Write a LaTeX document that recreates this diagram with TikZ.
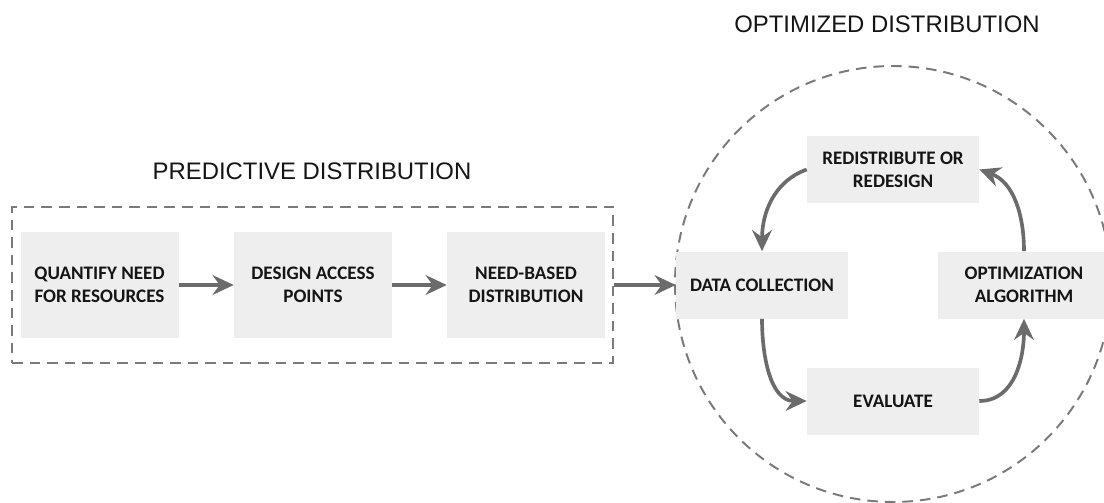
\documentclass[tikz,border=0pt]{standalone}
\usepackage{fontspec}
\setmainfont{Liberation Sans}
\newfontfamily\boxfont{Carlito}
\usetikzlibrary{arrows.meta}
\definecolor{boxgray}{HTML}{EEEEEE}
\definecolor{arrowgray}{HTML}{6B6B6B}
\definecolor{dashgray}{HTML}{7A7A7A}
\definecolor{textgray}{HTML}{151515}
\tikzset{
  stage/.style={fill=boxgray, minimum width=3.95cm, minimum height=2.65cm, align=center,
    font=\boxfont\bfseries\fontsize{13.6}{16.2}\selectfont, text=textgray},
  loopbox/.style={stage, minimum width=4.3cm, minimum height=1.675cm},
  flow/.style={arrowgray, line width=2.6pt, -{Stealth[length=15pt,width=14pt,inset=5pt]}},
  border/.style={draw=dashgray, line width=1.4pt, dash pattern=on 7.5pt off 5pt},
  heading/.style={font=\fontsize{17}{20}\selectfont, text=textgray}
}
\begin{document}
\begin{tikzpicture}
\useasboundingbox (0,0) rectangle (27.6,12.55);
% predictive distribution
\node[heading] (predtitle) at (7.8,8.275) {PREDICTIVE DISTRIBUTION};
\node[border, minimum width=15.025cm, minimum height=3.9cm] (predictive) at (7.8125,5.425) {};
\node[stage] (quantify) at (2.4875,5.425) {QUANTIFY NEED\\FOR RESOURCES};
\node[stage] (design) at (7.825,5.425) {DESIGN ACCESS\\POINTS};
\node[stage] (needbased) at (13.15,5.425) {NEED-BASED\\DISTRIBUTION};
\draw[flow] (quantify) -- (design);
\draw[flow] (design) -- (needbased);
% optimized distribution
\node[heading] (opttitle) at (22.175,11.94) {OPTIMIZED DISTRIBUTION};
\node[border, circle, minimum size=10.9cm] (optimized) at (22.325,5.45) {};
\node[loopbox] (redistribute) at (22.325,8.3125) {REDISTRIBUTE OR\\REDESIGN};
\node[loopbox] (collect) at (19.05,5.425) {DATA COLLECTION};
\node[loopbox] (algorithm) at (25.6,5.425) {OPTIMIZATION\\ALGORITHM};
\node[loopbox] (evaluate) at (22.325,2.525) {EVALUATE};
\draw[flow] (predictive.east) -- (collect.west);
\draw[flow] (redistribute.west) to[out=200,in=90] (collect.north);
\draw[flow] (collect.south) to[out=-90,in=180] (evaluate.west);
\draw[flow] (evaluate.east) to[out=0,in=-90] (algorithm.south);
\draw[flow] (algorithm.north) to[out=90,in=-20] (redistribute.east);
\end{tikzpicture}
\end{document}
